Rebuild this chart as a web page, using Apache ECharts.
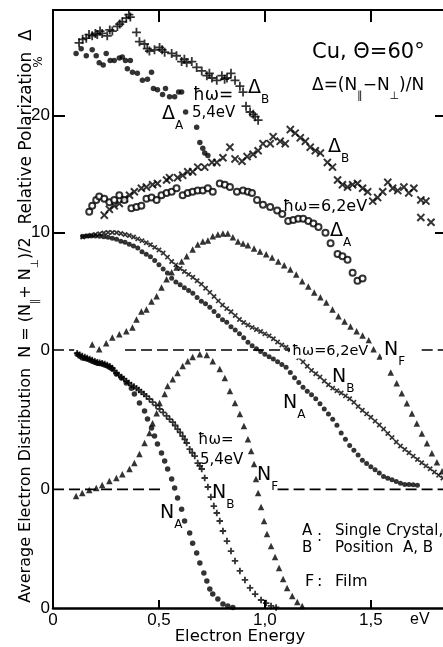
<!DOCTYPE html>
<html><head><meta charset="utf-8">
<script src="https://cdn.jsdelivr.net/npm/echarts@6/dist/echarts.min.js"></script>
<style>html,body{margin:0;padding:0;background:#fff}#c{width:443px;height:647px}</style>
</head><body><div id="c"></div>
<script>
// ---------- data (x: electron energy in eV) ----------
// Relative polarization Δ (%), ħω = 5.4 eV
const dB54 = [[0.123,26.2],[0.140,26.5],[0.157,26.6],[0.170,26.9],[0.185,26.8],[0.200,27.0],[0.209,26.9],[0.222,27.2],[0.232,27.0],[0.256,26.8],[0.268,27.3],[0.280,27.2],[0.304,27.6],[0.315,27.8],[0.327,28.0],[0.346,28.3],[0.358,28.6],[0.365,28.4],[0.394,27.1],[0.408,26.3],[0.432,26.1],[0.445,25.7],[0.455,25.5],[0.479,25.6],[0.503,25.8],[0.515,25.6],[0.527,25.4],[0.560,25.3],[0.583,25.1],[0.607,24.6],[0.620,24.8],[0.631,24.5],[0.655,24.6],[0.678,24.1],[0.702,23.8],[0.726,23.4],[0.738,23.6],[0.750,23.2],[0.773,23.0],[0.797,23.4],[0.810,23.1],[0.821,23.2],[0.840,23.6],[0.859,23.0],[0.882,22.5],[0.897,22.0],[0.911,20.8],[0.930,20.3],[0.945,20.1],[0.954,19.9],[0.968,19.6]];
const dA54 = [[0.109,25.3],[0.133,25.7],[0.157,25.1],[0.185,25.6],[0.204,25.1],[0.218,24.5],[0.237,24.3],[0.251,25.3],[0.270,24.7],[0.289,24.7],[0.313,24.9],[0.327,25.0],[0.342,24.7],[0.351,24.0],[0.365,24.7],[0.375,23.7],[0.398,23.6],[0.422,23.0],[0.446,23.1],[0.465,23.7],[0.474,22.3],[0.493,22.2],[0.517,21.8],[0.531,22.3],[0.550,21.6],[0.574,21.6],[0.593,22.0],[0.607,22.0],[0.626,20.3],[0.678,19.0],[0.693,17.7],[0.707,17.2],[0.716,16.8],[0.731,16.6]];
// Relative polarization Δ (%), ħω = 6.2 eV
const dB62 = [[0.242,11.5],[0.266,12.0],[0.289,12.3],[0.313,12.5],[0.337,12.9],[0.361,13.2],[0.384,13.5],[0.417,13.8],[0.441,13.9],[0.470,14.1],[0.493,14.2],[0.536,14.5],[0.550,14.7],[0.588,14.7],[0.612,14.9],[0.636,15.2],[0.659,15.2],[0.683,15.6],[0.716,15.6],[0.750,16.0],[0.773,16.0],[0.802,16.4],[0.835,17.3],[0.859,16.3],[0.892,16.1],[0.916,16.5],[0.944,16.7],[0.968,17.0],[0.991,17.6],[1.025,17.6],[1.039,18.2],[1.072,17.8],[1.096,17.6],[1.120,18.8],[1.143,18.5],[1.167,18.1],[1.191,17.8],[1.214,17.3],[1.238,17.0],[1.262,16.8],[1.295,16.0],[1.319,15.6],[1.343,14.5],[1.366,14.1],[1.390,13.9],[1.414,14.1],[1.437,14.2],[1.461,13.8],[1.485,13.5],[1.509,12.7],[1.532,13.0],[1.556,13.5],[1.580,14.3],[1.603,13.8],[1.627,13.6],[1.656,13.9],[1.679,13.4],[1.703,13.8],[1.736,12.8],[1.760,12.7],[1.736,11.3],[1.784,10.9]];
const dA62 = [[0.171,11.8],[0.185,12.3],[0.204,12.8],[0.218,13.1],[0.242,12.9],[0.266,12.6],[0.289,12.8],[0.313,13.2],[0.337,12.8],[0.370,12.1],[0.394,12.2],[0.417,12.3],[0.441,12.9],[0.465,13.0],[0.489,12.8],[0.512,13.2],[0.536,13.4],[0.560,13.5],[0.583,13.8],[0.612,13.2],[0.636,13.4],[0.659,13.5],[0.683,13.6],[0.707,13.6],[0.731,13.8],[0.754,13.5],[0.787,14.2],[0.811,14.1],[0.835,13.9],[0.868,13.5],[0.897,13.6],[0.920,13.5],[0.939,13.4],[0.963,12.8],[0.991,12.4],[1.025,12.2],[1.058,11.9],[1.082,11.6],[1.110,11.0],[1.134,11.1],[1.158,11.2],[1.181,11.2],[1.205,11.0],[1.229,10.8],[1.253,10.5],[1.286,10.0],[1.310,9.1],[1.343,8.2],[1.366,8.0],[1.390,7.7],[1.414,6.6],[1.437,5.9],[1.461,6.1]];
// Average electron distribution N (arb. units), ħω = 6.2 eV
const nB62 = [[0.14,0.980],[0.16,0.984],[0.18,0.987],[0.20,0.990],[0.22,0.993],[0.24,0.996],[0.26,0.998],[0.28,0.998],[0.30,0.997],[0.32,0.994],[0.34,0.990],[0.36,0.986],[0.38,0.980],[0.40,0.973],[0.42,0.966],[0.44,0.958],[0.46,0.950],[0.48,0.940],[0.50,0.930],[0.52,0.918],[0.54,0.902],[0.56,0.885],[0.58,0.872],[0.60,0.858],[0.62,0.846],[0.64,0.835],[0.66,0.824],[0.68,0.810],[0.70,0.797],[0.72,0.781],[0.74,0.765],[0.76,0.749],[0.78,0.732],[0.80,0.716],[0.82,0.702],[0.84,0.690],[0.86,0.675],[0.88,0.660],[0.90,0.648],[0.92,0.638],[0.94,0.629],[0.96,0.621],[0.98,0.613],[1.00,0.604],[1.02,0.596],[1.04,0.585],[1.06,0.572],[1.08,0.561],[1.10,0.552],[1.12,0.542],[1.14,0.527],[1.16,0.511],[1.18,0.495],[1.20,0.478],[1.22,0.462],[1.24,0.449],[1.26,0.436],[1.28,0.421],[1.30,0.406],[1.32,0.393],[1.34,0.383],[1.36,0.374],[1.38,0.363],[1.40,0.352],[1.42,0.338],[1.44,0.322],[1.46,0.307],[1.48,0.293],[1.50,0.280],[1.52,0.265],[1.54,0.250],[1.56,0.234],[1.58,0.217],[1.60,0.201],[1.62,0.184],[1.64,0.168],[1.66,0.155],[1.68,0.142],[1.70,0.129],[1.72,0.116],[1.74,0.103],[1.76,0.091],[1.78,0.080],[1.80,0.067],[1.82,0.055],[1.84,0.044]];
const nA62 = [[0.14,0.983],[0.16,0.984],[0.18,0.984],[0.20,0.984],[0.22,0.983],[0.24,0.981],[0.26,0.979],[0.28,0.975],[0.30,0.971],[0.32,0.964],[0.34,0.960],[0.36,0.952],[0.38,0.945],[0.40,0.937],[0.42,0.923],[0.44,0.913],[0.46,0.903],[0.48,0.889],[0.50,0.872],[0.52,0.856],[0.54,0.840],[0.56,0.820],[0.58,0.805],[0.60,0.795],[0.62,0.783],[0.64,0.772],[0.66,0.762],[0.68,0.745],[0.70,0.731],[0.72,0.721],[0.74,0.707],[0.76,0.691],[0.78,0.674],[0.80,0.659],[0.82,0.649],[0.84,0.632],[0.86,0.619],[0.88,0.604],[0.90,0.589],[0.92,0.571],[0.94,0.558],[0.96,0.546],[0.98,0.535],[1.00,0.525],[1.02,0.515],[1.04,0.506],[1.06,0.496],[1.08,0.485],[1.10,0.474],[1.12,0.454],[1.14,0.433],[1.16,0.415],[1.18,0.397],[1.20,0.381],[1.22,0.367],[1.24,0.352],[1.26,0.332],[1.28,0.312],[1.30,0.293],[1.32,0.272],[1.34,0.249],[1.36,0.219],[1.38,0.195],[1.40,0.170],[1.42,0.152],[1.44,0.133],[1.46,0.113],[1.48,0.100],[1.50,0.088],[1.52,0.076],[1.54,0.063],[1.56,0.050],[1.58,0.043],[1.60,0.037],[1.62,0.030],[1.64,0.024],[1.66,0.019],[1.68,0.019],[1.70,0.018],[1.72,0.016]];
const nF62 = [[0.185,0.563],[0.218,0.544],[0.251,0.567],[0.280,0.590],[0.313,0.602],[0.346,0.614],[0.375,0.629],[0.394,0.660],[0.417,0.691],[0.441,0.699],[0.465,0.730],[0.489,0.750],[0.512,0.784],[0.536,0.816],[0.560,0.843],[0.583,0.862],[0.607,0.885],[0.631,0.905],[0.659,0.932],[0.683,0.951],[0.707,0.963],[0.731,0.967],[0.754,0.983],[0.778,0.990],[0.802,0.994],[0.825,0.994],[0.849,0.979],[0.873,0.963],[0.897,0.955],[0.920,0.948],[0.949,0.936],[0.977,0.924],[1.006,0.913],[1.034,0.901],[1.063,0.885],[1.091,0.870],[1.120,0.854],[1.148,0.835],[1.176,0.808],[1.205,0.788],[1.233,0.765],[1.262,0.746],[1.290,0.726],[1.319,0.699],[1.347,0.672],[1.376,0.652],[1.404,0.633],[1.433,0.614],[1.461,0.598],[1.490,0.579],[1.513,0.544],[1.542,0.516],[1.570,0.485],[1.594,0.454],[1.622,0.412],[1.646,0.373],[1.670,0.334],[1.694,0.295],[1.717,0.256],[1.741,0.217],[1.765,0.179],[1.788,0.140],[1.812,0.105],[1.836,0.070]];
// Average electron distribution N (arb. units), ħω = 5.4 eV
const nB54 = [[0.114,0.990],[0.126,0.984],[0.138,0.979],[0.150,0.975],[0.161,0.971],[0.173,0.967],[0.185,0.963],[0.197,0.959],[0.209,0.955],[0.220,0.953],[0.232,0.951],[0.244,0.948],[0.256,0.944],[0.268,0.939],[0.280,0.932],[0.290,0.922],[0.299,0.913],[0.311,0.905],[0.323,0.897],[0.335,0.890],[0.346,0.882],[0.358,0.874],[0.370,0.866],[0.382,0.860],[0.394,0.854],[0.405,0.847],[0.417,0.839],[0.429,0.831],[0.441,0.823],[0.455,0.812],[0.470,0.800],[0.486,0.787],[0.503,0.773],[0.520,0.760],[0.536,0.746],[0.550,0.734],[0.565,0.722],[0.577,0.709],[0.588,0.695],[0.600,0.682],[0.612,0.668],[0.622,0.655],[0.631,0.641],[0.645,0.617],[0.657,0.603],[0.669,0.590],[0.683,0.563],[0.693,0.552],[0.702,0.540],[0.716,0.505],[0.731,0.470],[0.745,0.431],[0.759,0.396],[0.773,0.369],[0.787,0.338],[0.802,0.299],[0.821,0.260],[0.840,0.221],[0.859,0.183],[0.882,0.144],[0.906,0.109],[0.930,0.078],[0.954,0.054],[0.982,0.031],[1.006,0.019],[1.029,0.008],[1.053,0.002]];
const nA54 = [[0.114,0.986],[0.126,0.978],[0.138,0.971],[0.150,0.969],[0.161,0.967],[0.173,0.963],[0.185,0.959],[0.197,0.955],[0.209,0.951],[0.220,0.950],[0.232,0.948],[0.244,0.944],[0.256,0.940],[0.268,0.934],[0.280,0.928],[0.299,0.909],[0.323,0.893],[0.346,0.874],[0.370,0.854],[0.384,0.831],[0.408,0.796],[0.432,0.765],[0.446,0.734],[0.465,0.699],[0.479,0.668],[0.493,0.637],[0.512,0.602],[0.527,0.571],[0.541,0.540],[0.560,0.501],[0.574,0.466],[0.588,0.427],[0.607,0.384],[0.621,0.338],[0.645,0.291],[0.659,0.252],[0.678,0.214],[0.693,0.175],[0.712,0.136],[0.726,0.105],[0.740,0.074],[0.754,0.054],[0.778,0.035],[0.802,0.016],[0.825,0.008],[0.849,0.002]];
const nF54 = [[0.109,0.435],[0.138,0.447],[0.171,0.458],[0.204,0.466],[0.232,0.478],[0.266,0.493],[0.299,0.505],[0.327,0.520],[0.361,0.540],[0.384,0.563],[0.408,0.598],[0.432,0.641],[0.455,0.680],[0.470,0.718],[0.489,0.757],[0.503,0.796],[0.527,0.831],[0.541,0.862],[0.565,0.889],[0.588,0.913],[0.612,0.940],[0.636,0.959],[0.659,0.975],[0.693,0.986],[0.726,0.983],[0.754,0.959],[0.787,0.928],[0.811,0.893],[0.835,0.843],[0.859,0.796],[0.882,0.754],[0.901,0.707],[0.920,0.656],[0.935,0.610],[0.949,0.559],[0.958,0.501],[0.968,0.447],[0.982,0.392],[0.996,0.338],[1.010,0.287],[1.029,0.241],[1.048,0.198],[1.067,0.155],[1.086,0.113],[1.105,0.078],[1.129,0.047],[1.153,0.023],[1.176,0.008]];
// axis ticks / labels
const xTicks = [0.5, 1.0, 1.5];
const xLabels = [0, 0.5, 1.0, 1.5];
const polTicks = [10, 20];
const polLabels = [0, 10, 20];
// dashed zero-line pieces (energy ranges, eV)
const polZeroPieces = [[0, 0.10], [0.34, 1.13], [1.74, 1.85]];
const n62ZeroPieces = [[0, 0.52], [1.06, 1.85]];

// ---------- chart ----------
const LIB = '"Liberation Sans", Arial, sans-serif';
const DJV = '"DejaVu Sans", "Liberation Sans", sans-serif';
const PLUS = 'path://M-1,-5H1V-1H5V1H1V5H-1V1H-5V-1H-1Z';
const PLUS_B = 'path://M-1.4,-5H1.4V-1.4H5V1.4H1.4V5H-1.4V1.4H-5V-1.4H-1.4Z';
const K = '#000';
const chart = echarts.init(document.getElementById('c'), null, {renderer: 'canvas'});

const comma = v => String(v === 0 ? '0' : v.toFixed(1)).replace('.', ',');
function dashed(pieces, yi) {
  return pieces.map(p => ({
    type: 'line', xAxisIndex: 0, yAxisIndex: yi, data: [[p[0], 0], [p[1], 0]],
    symbol: 'none', silent: true, animation: false, z: 2,
    lineStyle: {color: K, width: 1.6, type: [11, 5]}
  }));
}
function scat(data, yi, symbol, size, extra) {
  return Object.assign({
    type: 'scatter', xAxisIndex: 0, yAxisIndex: yi, data, symbol, symbolSize: size,
    itemStyle: {color: K}, silent: true, animation: false, z: 3
  }, extra || {});
}
function txt(x, yc, s, size, fam, extra) {
  return {type: 'text', x, y: yc, silent: true, z: 10, style: Object.assign({
    text: s, fontSize: size, fontFamily: fam || DJV, fill: K, align: 'left', verticalAlign: 'middle'
  }, extra || {})};
}
function rich(x, yc, s, S, sub, extra) {
  return {type: 'text', x, y: yc - S * 0.55, silent: true, z: 10, style: Object.assign({
    text: s, fill: K, align: 'left', verticalAlign: 'top',
    rich: {
      m: {fontSize: S, fontFamily: DJV, lineHeight: S * 1.1, verticalAlign: 'top', fill: K},
      s: {fontSize: sub || S * 0.64, fontFamily: DJV, lineHeight: S * 1.45, verticalAlign: 'bottom', fill: K}
    }
  }, extra || {})};
}
const white = {backgroundColor: '#fff', padding: [0, 2]};

const yBase = {type: 'value', position: 'left', splitLine: {show: false},
  axisLine: {show: false, onZero: false}, axisTick: {show: false}};
const labStyle = {color: K, fontSize: 17, fontFamily: LIB, margin: 3};

chart.setOption({
  animation: false,
  backgroundColor: '#fff',
  grid: {left: 53, top: 10, width: 392, height: 598, outerBoundsMode: 'none', containLabel: false},
  xAxis: [
    {type: 'value', min: 0, max: 1.85, position: 'bottom', splitLine: {show: false},
      axisLine: {onZero: false, lineStyle: {color: K, width: 2.5}},
      axisTick: {inside: true, length: 8, customValues: xTicks, lineStyle: {color: K, width: 2}},
      axisLabel: Object.assign({}, labStyle, {margin: 4, customValues: xLabels, formatter: v => comma(v)})},
    {type: 'value', min: 0, max: 1.85, position: 'top', splitLine: {show: false},
      axisLine: {onZero: false, lineStyle: {color: K, width: 2}},
      axisTick: {inside: true, length: 12, customValues: xTicks, lineStyle: {color: K, width: 2}},
      axisLabel: {show: false}}
  ],
  yAxis: [
    Object.assign({}, yBase, {min: -22, max: 29,
      axisLine: {show: true, onZero: false, lineStyle: {color: K, width: 2}},
      axisTick: {show: true, inside: true, length: 12, customValues: polTicks, lineStyle: {color: K, width: 2}},
      axisLabel: Object.assign({}, labStyle, {customValues: polLabels})}),
    Object.assign({}, yBase, {min: -0.461, max: 1.862,
      axisLabel: Object.assign({}, labStyle, {customValues: [0], formatter: () => '0'})}),
    Object.assign({}, yBase, {min: 0, max: 2.323,
      axisLabel: Object.assign({}, labStyle, {customValues: [0], formatter: () => '0'})}),
    Object.assign({}, yBase, {min: -22, max: 29, position: 'right',
      axisTick: {show: true, inside: true, length: 10, customValues: polTicks, lineStyle: {color: K, width: 2}},
      axisLabel: {show: false}})
  ],
  series: [
    ...dashed(polZeroPieces, 0),
    ...dashed(n62ZeroPieces, 1),
    scat(dB54, 0, PLUS, 9),
    scat(dA54, 0, 'circle', 5.5),
    scat(dB62, 0, PLUS, 10, {symbolRotate: 45}),
    scat(dA62, 0, 'emptyCircle', 6, {itemStyle: {color: K, borderColor: K, borderWidth: 1.4}, z: 4}),
    scat(nB62, 1, PLUS_B, 6, {symbolRotate: 45}),
    scat(nA62, 1, 'circle', 5),
    scat(nF62, 1, 'triangle', 6.5),
    scat(nB54, 2, PLUS_B, 6.5),
    scat(nA54, 2, 'circle', 5.5),
    scat(nF54, 2, 'triangle', 6.5)
  ],
  graphic: [
    // axis titles
    {type: 'text', x: 27, y: 127, rotation: Math.PI / 2, silent: true,
      style: {text: 'Relative Polarization  Δ', fontSize: 17, fontFamily: DJV, fill: K, align: 'center', verticalAlign: 'middle'}},
    {type: 'text', x: 39, y: 62, rotation: Math.PI / 2, silent: true,
      style: {text: '%', fontSize: 12, fontFamily: DJV, fill: K, align: 'center', verticalAlign: 'middle'}},
    {type: 'text', x: 29.5, y: 420, rotation: Math.PI / 2, silent: true,
      style: {text: '{m|Average Electron Distribution  N = (N}{s|∥}{m|+ N}{s|⊥}{m|)/2}', fill: K, align: 'center', verticalAlign: 'middle',
        rich: {m: {fontSize: 16, fontFamily: DJV, lineHeight: 17.6, verticalAlign: 'top', fill: K},
               s: {fontSize: 10.5, fontFamily: DJV, lineHeight: 23, verticalAlign: 'bottom', fill: K}}}},
    txt(240, 637, 'Electron Energy', 16.5, DJV, {align: 'center'}),
    txt(410, 620, 'eV', 16, LIB),
    // header
    txt(312, 53, 'Cu, Θ=60°', 21),
    rich(312, 86, '{m|Δ=(N}{s|∥}{m|−N}{s|⊥}{m|)/N}', 17),
    // polarization labels
    txt(193, 96, 'ħω=', 17),
    rich(248, 89, '{m|Δ}{s|B}', 19, 12),
    rich(162, 115, '{m|Δ}{s|A}', 19, 12),
    txt(192, 113, '5,4eV', 15),
    rich(328, 148, '{m|Δ}{s|B}', 19, 12),
    txt(283, 207, 'ħω=6,2eV', 16),
    rich(330, 232, '{m|Δ}{s|A}', 19, 12),
    // 6.2 eV distribution labels
    txt(290, 351, 'ħω=6,2eV', 14.5, DJV, white),
    rich(382, 351, '{m|N}{s|F}', 19, 12, white),
    rich(332, 378, '{m|N}{s|B}', 19, 12),
    rich(283, 404, '{m|N}{s|A}', 19, 12),
    // 5.4 eV distribution labels
    txt(198, 440, 'ħω=', 15),
    txt(200, 460, '5,4eV', 15),
    rich(212, 494, '{m|N}{s|B}', 19, 12),
    rich(257, 476, '{m|N}{s|F}', 19, 12),
    rich(160, 514, '{m|N}{s|A}', 19, 12),
    // key
    txt(302, 531, 'A', 15),
    txt(317, 537, ':', 15),
    txt(335, 531, 'Single Crystal,', 15),
    txt(302, 548, 'B', 15),
    txt(335, 548, 'Position  A, B', 15),
    txt(305, 582, 'F', 16),
    txt(317, 582, ':', 16),
    txt(335, 582, 'Film', 16)
  ]
});
</script></body></html>
